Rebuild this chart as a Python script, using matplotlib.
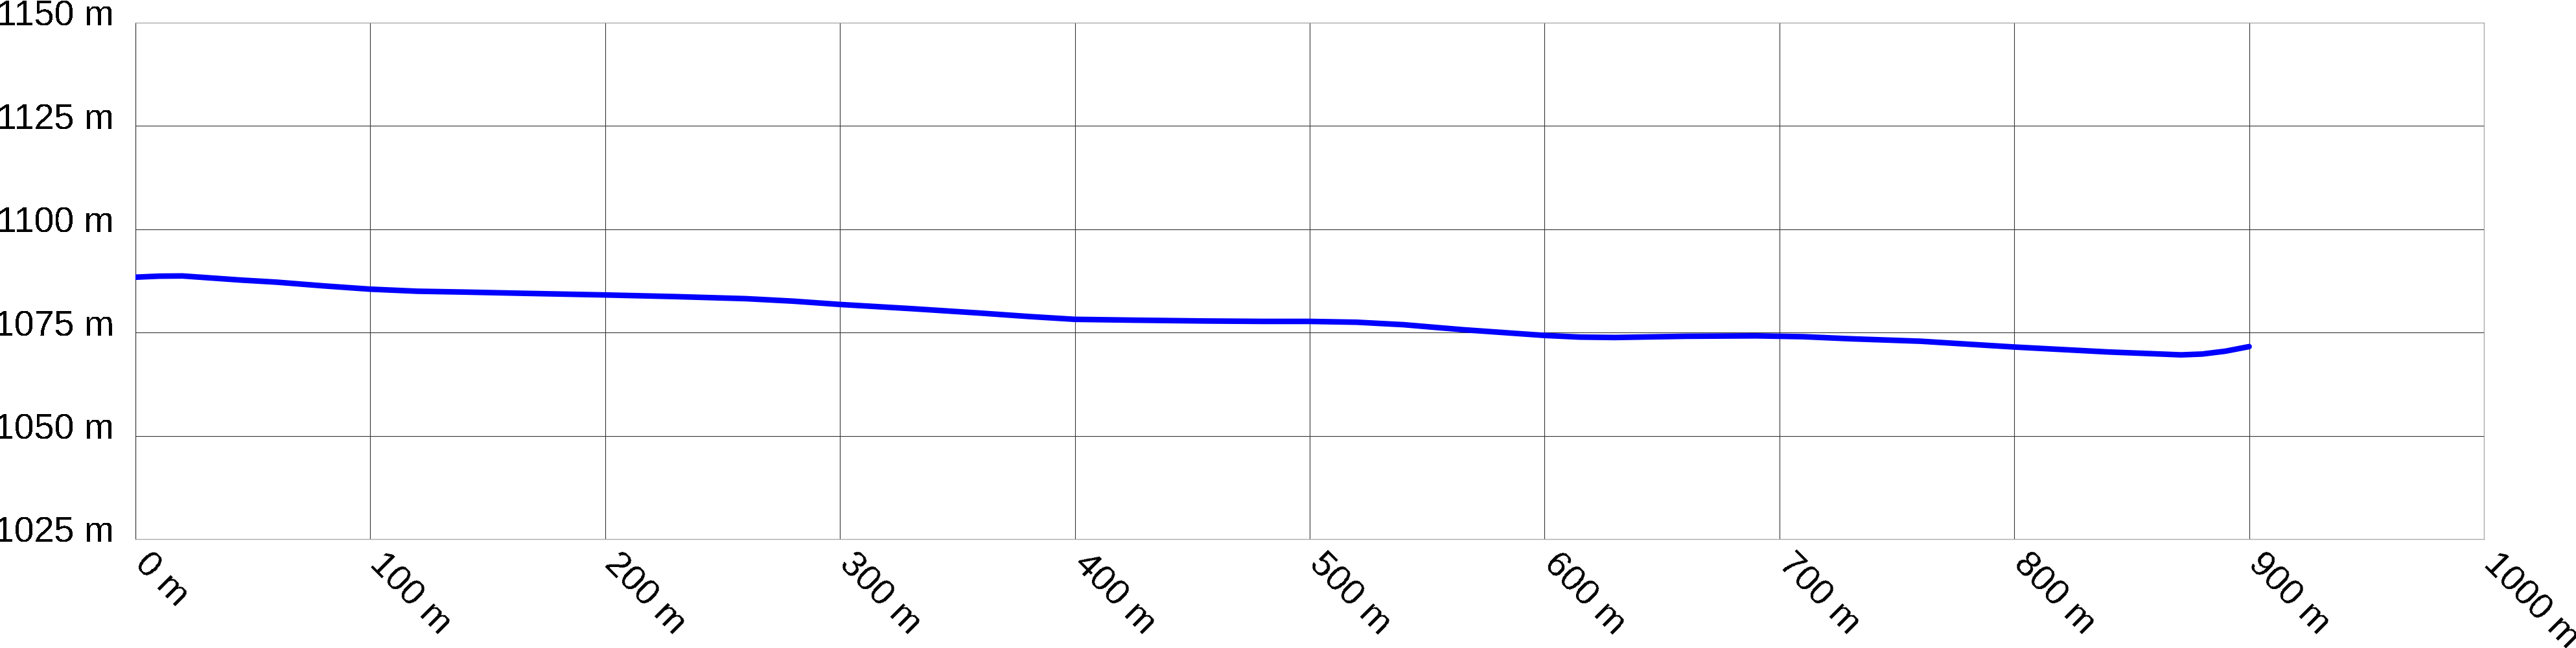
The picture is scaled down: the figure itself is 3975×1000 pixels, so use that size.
import matplotlib
matplotlib.use("Agg")
import matplotlib.pyplot as plt
import matplotlib.transforms as mtransforms

# elevation profile (distance in m, elevation in m)
distance = [0, 10, 20, 30, 45, 60, 80, 100, 120, 140, 165, 200, 230, 260,
            280, 300, 330, 360, 380, 400, 425, 455, 480, 500, 520, 540, 565,
            585, 600, 615, 630, 660, 690, 710, 730, 760, 780, 800, 820, 840,
            858, 871, 880, 890, 900]
elevation = [1088.4, 1088.65, 1088.7, 1088.3, 1087.7, 1087.2, 1086.3, 1085.5,
             1085.0, 1084.8, 1084.5, 1084.1, 1083.7, 1083.2, 1082.6, 1081.8,
             1080.8, 1079.7, 1078.9, 1078.2, 1078.0, 1077.8, 1077.7, 1077.7,
             1077.5, 1076.9, 1075.7, 1074.9, 1074.3, 1073.9, 1073.8, 1074.1,
             1074.2, 1074.0, 1073.5, 1072.9, 1072.2, 1071.5, 1070.9, 1070.3,
             1069.9, 1069.6, 1069.8, 1070.5, 1071.6]

x_ticks = list(range(0, 1001, 100))
y_ticks = list(range(1025, 1151, 25))

plt.rcParams['font.family'] = ['Liberation Sans', 'DejaVu Sans']
plt.rcParams['text.antialiased'] = False

W, H, DPI = 3975, 1000, 100
fig = plt.figure(figsize=(W / DPI, H / DPI), dpi=DPI)
left, right, top, bottom = 209, 3833, 35, 832
ax = fig.add_axes([left / W, 1 - bottom / H, (right - left) / W, (bottom - top) / H])

ax.plot(distance, elevation, color='#0000ff', lw=6.2, solid_capstyle='round',
        solid_joinstyle='round', zorder=3)

ax.set_xlim(0, 1000)
ax.set_ylim(1025, 1150)
ax.set_xticks(x_ticks)
ax.set_yticks(y_ticks)
ax.set_xticklabels([f"{v} m" for v in x_ticks], fontsize=40)
ax.set_yticklabels([f"{v} m" for v in y_ticks], fontsize=40)

ax.grid(True, color='#333333', lw=0.8)
ax.set_axisbelow(True)
ax.tick_params(length=0, colors='black')
ax.tick_params(axis='y', pad=24)
ax.tick_params(axis='x', pad=29)

for s in ['top', 'bottom', 'right']:
    ax.spines[s].set_color('#aaaaaa')
    ax.spines[s].set_linewidth(0.9)
ax.spines['left'].set_color('#444444')
ax.spines['left'].set_linewidth(0.9)

# y labels sit with their baseline a few px under the gridline
shift_y = mtransforms.ScaledTranslation(0, -5 / DPI, fig.dpi_scale_trans)
for lab in ax.get_yticklabels():
    lab.set_fontsize(40)
    lab.set_verticalalignment('baseline')
    lab.set_transform(lab.get_transform() + shift_y)

# x labels slanted downwards, starting at the gridline
shift_x = mtransforms.ScaledTranslation(-3 / DPI, 0, fig.dpi_scale_trans)
for lab in ax.get_xticklabels():
    lab.set_fontsize(40)
    lab.set_rotation(-45)
    lab.set_rotation_mode('anchor')
    lab.set_horizontalalignment('left')
    lab.set_verticalalignment('baseline')
    lab.set_transform(lab.get_transform() + shift_x)

fig.savefig('out.png', dpi=DPI)
